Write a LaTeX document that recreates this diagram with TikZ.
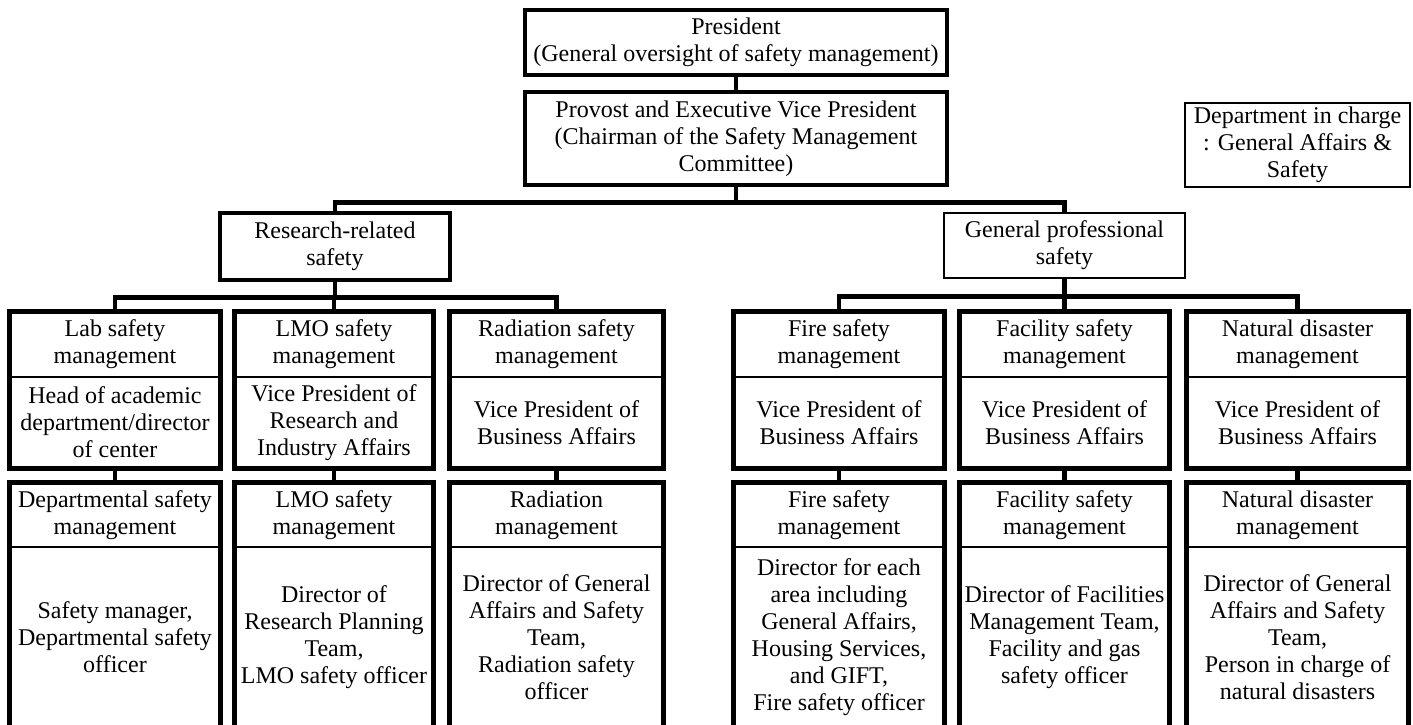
\documentclass[tikz,border=0pt]{standalone}
\usepackage{fontspec}
\setmainfont{Liberation Serif}

\begin{document}
\begin{tikzpicture}[
    x=1pt, y=-1pt,
    font=\fontsize{24}{27}\selectfont,
    cell/.style={
        rectangle, draw, line width=1.2pt, align=center, inner sep=0pt
    },
    box/.style={cell, line width=4.5pt},
    frame/.style={draw, line width=4.5pt},
    link/.style={line width=4.5pt}
]

\useasboundingbox (0,0) rectangle (1413,725);
\clip (0,0) rectangle (1413,725);

% Top of the hierarchy
\node[box, minimum width=422pt, minimum height=65pt] (pres) at (736,42.5)
    {President\\(General oversight of safety management)};
\node[box, minimum width=422pt, minimum height=93pt] (provost) at (736,138.5)
    {Provost and Executive Vice President\\(Chairman of the Safety Management\\Committee)};
\node[cell, minimum width=225pt, minimum height=84pt] (dept) at (1297.5,145)
    {Department in charge\\: General Affairs \&\\Safety};

% Two branches
\node[box, minimum width=230pt, minimum height=67pt] (research) at (335,246.5)
    {Research-related\\safety};
\node[cell, minimum width=241pt, minimum height=65pt] (general) at (1064.5,245.5)
    {General professional\\safety};

% Research-related columns
\node[cell, minimum width=210pt, minimum height=65pt] (lab) at (115,344.5) {Lab safety\\management};
\node[cell, minimum width=210pt, minimum height=91pt] (labvp) at (115,422.5) {Head of academic\\department/director\\of center};
\node[cell, minimum width=210pt, minimum height=64pt] (labmgmt) at (115,515) {Departmental safety\\management};
\node[cell, minimum width=210pt, minimum height=180pt] (labofficer) at (115,637) {Safety manager,\\Departmental safety\\officer};

\node[cell, minimum width=198pt, minimum height=65pt] (lmo) at (334,344.5) {LMO safety\\management};
\node[cell, minimum width=198pt, minimum height=91pt] (lmovp) at (334,422.5) {Vice President of\\Research and\\Industry Affairs};
\node[cell, minimum width=198pt, minimum height=64pt] (lmomgmt) at (334,515) {LMO safety\\management};
\node[cell, minimum width=198pt, minimum height=180pt] (lmoofficer) at (334,637) {Director of\\Research Planning\\Team,\\LMO safety officer};

\node[cell, minimum width=213pt, minimum height=65pt] (rad) at (556.5,344.5) {Radiation safety\\management};
\node[cell, minimum width=213pt, minimum height=91pt] (radvp) at (556.5,422.5) {Vice President of\\Business Affairs};
\node[cell, minimum width=213pt, minimum height=64pt] (radmgmt) at (556.5,515) {Radiation\\management};
\node[cell, minimum width=213pt, minimum height=180pt] (radofficer) at (556.5,637) {Director of General\\Affairs and Safety\\Team,\\Radiation safety\\officer};

% General professional columns
\node[cell, minimum width=210pt, minimum height=65pt] (fire) at (839,344.5) {Fire safety\\management};
\node[cell, minimum width=210pt, minimum height=91pt] (firevp) at (839,422.5) {Vice President of\\Business Affairs};
\node[cell, minimum width=210pt, minimum height=64pt] (firemgmt) at (839,515) {Fire safety\\management};
\node[cell, minimum width=210pt, minimum height=180pt] (fireofficer) at (839,637) {Director for each\\area including\\General Affairs,\\Housing Services,\\and GIFT,\\Fire safety officer};

\node[cell, minimum width=209pt, minimum height=65pt] (fac) at (1064.5,344.5) {Facility safety\\management};
\node[cell, minimum width=209pt, minimum height=91pt] (facvp) at (1064.5,422.5) {Vice President of\\Business Affairs};
\node[cell, minimum width=209pt, minimum height=64pt] (facmgmt) at (1064.5,515) {Facility safety\\management};
\node[cell, minimum width=209pt, minimum height=180pt] (facofficer) at (1064.5,637) {Director of Facilities\\Management Team,\\Facility and gas\\safety officer};

\node[cell, minimum width=221pt, minimum height=65pt] (nat) at (1297.5,344.5) {Natural disaster\\management};
\node[cell, minimum width=221pt, minimum height=91pt] (natvp) at (1297.5,422.5) {Vice President of\\Business Affairs};
\node[cell, minimum width=221pt, minimum height=64pt] (natmgmt) at (1297.5,515) {Natural disaster\\management};
\node[cell, minimum width=221pt, minimum height=180pt] (natofficer) at (1297.5,637) {Director of General\\Affairs and Safety\\Team,\\Person in charge of\\natural disasters};

% Heavy frames round each pair
\draw[frame] (lab.north west) rectangle (labvp.south east);
\draw[frame] (labmgmt.north west) rectangle (labofficer.south east);
\draw[frame] (lmo.north west) rectangle (lmovp.south east);
\draw[frame] (lmomgmt.north west) rectangle (lmoofficer.south east);
\draw[frame] (rad.north west) rectangle (radvp.south east);
\draw[frame] (radmgmt.north west) rectangle (radofficer.south east);
\draw[frame] (fire.north west) rectangle (firevp.south east);
\draw[frame] (firemgmt.north west) rectangle (fireofficer.south east);
\draw[frame] (fac.north west) rectangle (facvp.south east);
\draw[frame] (facmgmt.north west) rectangle (facofficer.south east);
\draw[frame] (nat.north west) rectangle (natvp.south east);
\draw[frame] (natmgmt.north west) rectangle (natofficer.south east);

% Connectors
\draw[link] (pres) -- (provost);
\draw[link] (provost.south) -- ++(0,15) -| (research.north);
\draw[link] (provost.south) -- ++(0,15) -| (general.north);

\draw[link] (research.south) -- ++(0,15) -| (lab.north);
\draw[link] (research.south) -- ++(0,15) -| (lmo.north);
\draw[link] (research.south) -- ++(0,15) -| (rad.north);
\draw[link] (general.south) -- ++(0,18) -| (fire.north);
\draw[link] (general.south) -- ++(0,18) -| (fac.north);
\draw[link] (general.south) -- ++(0,18) -| (nat.north);

\draw[link] (labvp) -- (labmgmt);
\draw[link] (lmovp) -- (lmomgmt);
\draw[link] (radvp) -- (radmgmt);
\draw[link] (firevp) -- (firemgmt);
\draw[link] (facvp) -- (facmgmt);
\draw[link] (natvp) -- (natmgmt);

\end{tikzpicture}
\end{document}
